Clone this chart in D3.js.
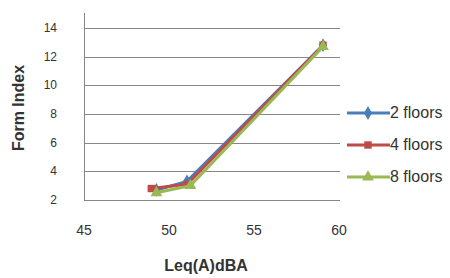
<!DOCTYPE html>
<html>
<head>
<meta charset="utf-8">
<script src="https://cdn.jsdelivr.net/npm/d3@7"></script>
<style>
  body { margin: 0; background: #fff; }
  svg { font-family: "Liberation Sans", Arial, sans-serif; }
</style>
</head>
<body>
<div id="chart"></div>
<script>
// series: [Leq(A) dBA, Form Index]
const floors2 = [[49.2, 2.7], [51.0, 3.3], [59.0, 12.8]];
const floors4 = [[48.9, 2.8], [51.0, 3.1], [59.0, 12.8]];
const floors8 = [[49.2, 2.5], [51.2, 3.0], [59.0, 12.7]];
const seriesNames = ["2 floors", "4 floors", "8 floors"];
const yTicks = [2, 4, 6, 8, 10, 12, 14];
const xTicks = [45, 50, 55, 60];

const width = 450, height = 278;
const colors = ["#4a7ebb", "#be4b48", "#98b954"];
const shapes = [d3.symbolDiamond, d3.symbolSquare, d3.symbolTriangle];
const sizes = [55, 55, 60];

const svg = d3.select("#chart").append("svg")
  .attr("width", width)
  .attr("height", height);

const x = d3.scaleLinear().domain([45, 60]).range([85, 340]);
const y = d3.scaleLinear().domain([2, 14]).range([200, 28]);

// gridlines
svg.append("g")
  .selectAll("line")
  .data(yTicks)
  .enter().append("line")
  .attr("x1", 84).attr("x2", 340)
  .attr("y1", d => Math.round(y(d)) + 0.5)
  .attr("y2", d => Math.round(y(d)) + 0.5)
  .attr("stroke", "#868686")
  .attr("stroke-width", 1);

// y axis line
svg.append("line")
  .attr("x1", 84.5).attr("x2", 84.5)
  .attr("y1", 13).attr("y2", Math.round(y(2)) + 1)
  .attr("stroke", "#868686");

// y tick labels
svg.append("g")
  .selectAll("text")
  .data(yTicks)
  .enter().append("text")
  .attr("x", 57)
  .attr("y", d => y(d) + 4)
  .attr("text-anchor", "end")
  .attr("font-size", 12)
  .attr("fill", "#333")
  .text(d => d);

// x tick labels (sit low, below the plot)
svg.append("g")
  .selectAll("text")
  .data(xTicks)
  .enter().append("text")
  .attr("x", d => x(d) - 1)
  .attr("y", 235)
  .attr("text-anchor", "middle")
  .attr("font-size", 14)
  .attr("fill", "#333")
  .text(d => d);

// axis titles
svg.append("text")
  .attr("transform", "translate(24,108) rotate(-90)")
  .attr("text-anchor", "middle")
  .attr("font-size", 16)
  .attr("font-weight", "bold")
  .attr("fill", "#333")
  .text("Form Index");

svg.append("text")
  .attr("x", 206)
  .attr("y", 271)
  .attr("text-anchor", "middle")
  .attr("font-size", 16)
  .attr("font-weight", "bold")
  .attr("fill", "#333")
  .text("Leq(A)dBA");

const line = d3.line().x(d => x(d[0])).y(d => y(d[1]));
const allSeries = [floors2, floors4, floors8];

allSeries.forEach(function(s, i) {
  svg.append("path")
    .datum(s)
    .attr("d", line)
    .attr("fill", "none")
    .attr("stroke", colors[i])
    .attr("stroke-width", 3);

  svg.append("g")
    .selectAll("path")
    .data(s)
    .enter().append("path")
    .attr("transform", d => "translate(" + x(d[0]) + "," + y(d[1]) + ")")
    .attr("d", d3.symbol().type(shapes[i]).size(sizes[i]))
    .attr("fill", colors[i]);
});

// legend
const legend = svg.append("g")
  .selectAll("g")
  .data(seriesNames)
  .enter().append("g")
  .attr("transform", (d, i) => "translate(347," + (113 + i * 32) + ")");

legend.append("line")
  .attr("x1", 0).attr("x2", 43)
  .attr("stroke", (d, i) => colors[i])
  .attr("stroke-width", 3);

legend.append("path")
  .attr("transform", "translate(21,0)")
  .attr("d", (d, i) => d3.symbol().type(shapes[i]).size(sizes[i])())
  .attr("fill", (d, i) => colors[i]);

legend.append("text")
  .attr("x", 43)
  .attr("y", 5)
  .attr("font-size", 16)
  .attr("fill", "#333")
  .text(d => d);
</script>
</body>
</html>
